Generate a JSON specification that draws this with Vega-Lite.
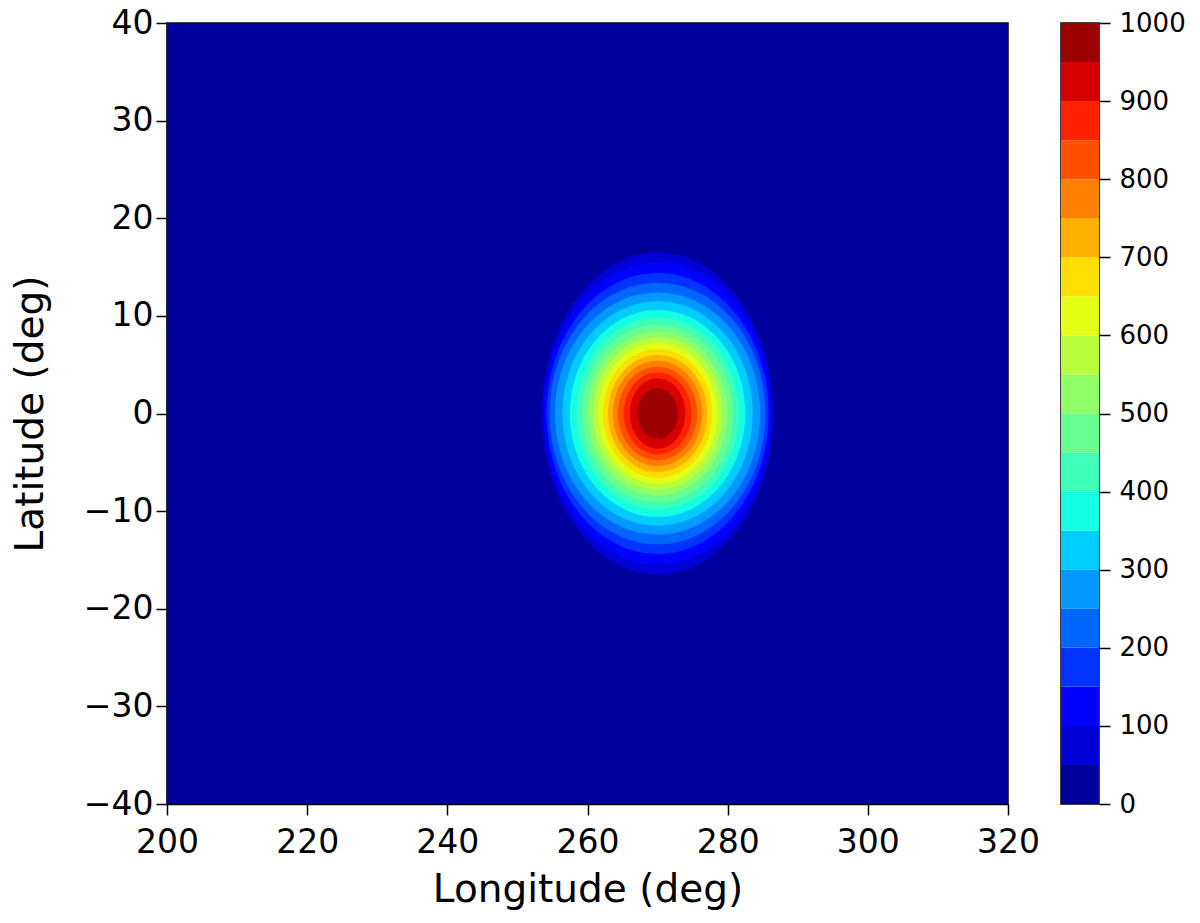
{
  "$schema": "https://vega.github.io/schema/vega-lite/v6.json",
  "background": "white",
  "padding": {"left": 10, "top": 6, "right": 5, "bottom": 5},
  "spacing": 53,
  "bounds": "flush",
  "datasets": {
    "bg": [{"lon0": 200, "lon1": 320, "lat0": -40, "lat1": 40, "lvl": 0}],
    "contours": [
      {"lvl": 50, "lon": 270, "lat": 0, "r": 16.5, "g": "A"},
      {"lvl": 100, "lon": 270, "lat": 0, "r": 15.5, "g": "B"},
      {"lvl": 150, "lon": 270, "lat": 0, "r": 14.4, "g": "C"},
      {"lvl": 200, "lon": 270, "lat": 0, "r": 13.4, "g": "D"},
      {"lvl": 250, "lon": 270, "lat": 0, "r": 12.4, "g": "E"},
      {"lvl": 300, "lon": 270, "lat": 0, "r": 11.5, "g": "E"},
      {"lvl": 350, "lon": 270, "lat": 0, "r": 10.6, "g": "E"},
      {"lvl": 400, "lon": 270, "lat": 0, "r": 9.8, "g": "E"},
      {"lvl": 450, "lon": 270, "lat": 0, "r": 9.1, "g": "E"},
      {"lvl": 500, "lon": 270, "lat": 0, "r": 8.4, "g": "E"},
      {"lvl": 550, "lon": 270, "lat": 0, "r": 7.8, "g": "E"},
      {"lvl": 600, "lon": 270, "lat": 0, "r": 7.2, "g": "E"},
      {"lvl": 650, "lon": 270, "lat": 0, "r": 6.6, "g": "E"},
      {"lvl": 700, "lon": 270, "lat": 0, "r": 6.0, "g": "E"},
      {"lvl": 750, "lon": 270, "lat": 0, "r": 5.4, "g": "E"},
      {"lvl": 800, "lon": 270, "lat": 0, "r": 4.8, "g": "E"},
      {"lvl": 850, "lon": 270, "lat": 0, "r": 4.2, "g": "D"},
      {"lvl": 900, "lon": 270, "lat": 0, "r": 3.6, "g": "C"},
      {"lvl": 950, "lon": 270, "lat": 0, "r": 2.6, "g": "C"}
    ],
    "bands": [
      {"lvl": 0, "hi": 50}, {"lvl": 50, "hi": 100}, {"lvl": 100, "hi": 150}, {"lvl": 150, "hi": 200},
      {"lvl": 200, "hi": 250}, {"lvl": 250, "hi": 300}, {"lvl": 300, "hi": 350}, {"lvl": 350, "hi": 400},
      {"lvl": 400, "hi": 450}, {"lvl": 450, "hi": 500}, {"lvl": 500, "hi": 550}, {"lvl": 550, "hi": 600},
      {"lvl": 600, "hi": 650}, {"lvl": 650, "hi": 700}, {"lvl": 700, "hi": 750}, {"lvl": 750, "hi": 800},
      {"lvl": 800, "hi": 850}, {"lvl": 850, "hi": 900}, {"lvl": 900, "hi": 950}, {"lvl": 950, "hi": 1000}
    ]
  },
  "resolve": {"scale": {"x": "independent", "y": "independent", "color": "independent"}},
  "config": {
    "font": "DejaVu Sans",
    "view": {"stroke": "#000000", "strokeWidth": 1.5},
    "axis": {
      "grid": false,
      "labelColor": "#000000",
      "tickColor": "#000000",
      "domainColor": "#000000",
      "titleColor": "#000000",
      "titleFontWeight": "normal",
      "tickWidth": 1.5,
      "domainWidth": 1.5,
      "labelFlush": false,
      "labelOverlap": false
    }
  },
  "hconcat": [
    {
      "width": 841,
      "height": 781,
      "layer": [
        {
          "data": {"name": "bg"},
          "mark": {"type": "rect"},
          "encoding": {
            "x": {
              "field": "lon0", "type": "quantitative",
              "scale": {"domain": [200, 320], "nice": false, "zero": false},
              "axis": {"title": "Longitude (deg)", "values": [200, 220, 240, 260, 280, 300, 320], "format": "d", "tickSize": 11, "labelPadding": 11, "labelFontSize": 33, "titleFontSize": 39, "titlePadding": 11}
            },
            "x2": {"field": "lon1"},
            "y": {
              "field": "lat0", "type": "quantitative",
              "scale": {"domain": [-40, 40], "nice": false, "zero": false},
              "axis": {"title": "Latitude (deg)", "values": [-40, -30, -20, -10, 0, 10, 20, 30, 40], "tickSize": 11, "labelPadding": 3, "labelFontSize": 33, "titleFontSize": 39, "titlePadding": 33}
            },
            "y2": {"field": "lat1"},
            "color": {
              "field": "lvl", "type": "ordinal",
              "scale": {
                "domain": [0, 50, 100, 150, 200, 250, 300, 350, 400, 450, 500, 550, 600, 650, 700, 750, 800, 850, 900, 950],
                "range": ["#00009c", "#0000d6", "#0000ff", "#0033ff", "#0066ff", "#0099ff", "#00ccff", "#15ffe2", "#3effb9", "#67ff90", "#90ff67", "#b9ff3e", "#e2ff15", "#ffde00", "#ffaf00", "#ff8000", "#ff5000", "#ff2100", "#d60000", "#9c0000"]
              },
              "legend": null
            }
          }
        },
        {
          "data": {"name": "contours"},
          "mark": {"type": "point", "filled": true, "opacity": 1, "strokeWidth": 0},
          "encoding": {
            "x": {"field": "lon", "type": "quantitative"},
            "y": {"field": "lat", "type": "quantitative"},
            "size": {
              "field": "r", "type": "quantitative",
              "scale": {"type": "pow", "exponent": 2, "domain": [0, 20], "range": [0, 152490]},
              "legend": null
            },
            "shape": {
              "field": "g", "type": "nominal",
              "scale": {
                "domain": ["A", "B", "C", "D", "E"],
                "range": [
                  "M -0.7179 0 A 0.7179 1 0 1 0 0.7179 0 A 0.7179 1 0 1 0 -0.7179 0 Z",
                  "M -0.7538 0 A 0.7538 1 0 1 0 0.7538 0 A 0.7538 1 0 1 0 -0.7538 0 Z",
                  "M -0.7897 0 A 0.7897 1 0 1 0 0.7897 0 A 0.7897 1 0 1 0 -0.7897 0 Z",
                  "M -0.8255 0 A 0.8255 1 0 1 0 0.8255 0 A 0.8255 1 0 1 0 -0.8255 0 Z",
                  "M -0.8471 0 A 0.8471 1 0 1 0 0.8471 0 A 0.8471 1 0 1 0 -0.8471 0 Z"
                ]
              },
              "legend": null
            },
            "color": {"field": "lvl", "type": "ordinal", "legend": null},
            "order": {"field": "lvl", "type": "quantitative", "sort": "ascending"}
          }
        }
      ]
    },
    {
      "width": 38,
      "height": 781,
      "data": {"name": "bands"},
      "mark": {"type": "rect"},
      "encoding": {
        "x": {"datum": 0, "type": "quantitative", "scale": {"domain": [0, 1], "nice": false, "zero": false}, "axis": null},
        "x2": {"datum": 1},
        "y": {
          "field": "lvl", "type": "quantitative",
          "scale": {"domain": [0, 1000], "nice": false},
          "axis": {"orient": "right", "title": null, "values": [0, 100, 200, 300, 400, 500, 600, 700, 800, 900, 1000], "format": "d", "tickSize": 11, "labelPadding": 9, "labelFontSize": 26, "domain": false}
        },
        "y2": {"field": "hi"},
        "color": {
          "field": "lvl", "type": "ordinal",
          "scale": {
            "domain": [0, 50, 100, 150, 200, 250, 300, 350, 400, 450, 500, 550, 600, 650, 700, 750, 800, 850, 900, 950],
            "range": ["#00009c", "#0000d6", "#0000ff", "#0033ff", "#0066ff", "#0099ff", "#00ccff", "#15ffe2", "#3effb9", "#67ff90", "#90ff67", "#b9ff3e", "#e2ff15", "#ffde00", "#ffaf00", "#ff8000", "#ff5000", "#ff2100", "#d60000", "#9c0000"]
          },
          "legend": null
        }
      }
    }
  ]
}
